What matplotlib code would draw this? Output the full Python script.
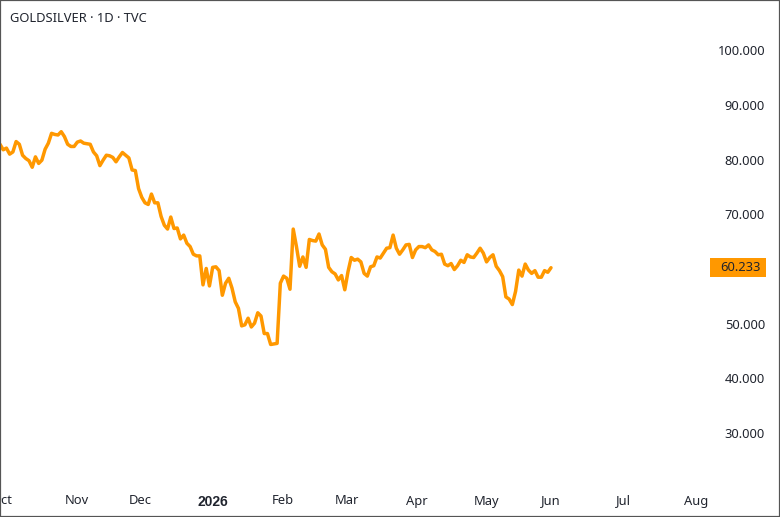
import matplotlib
matplotlib.use("Agg")
import matplotlib.pyplot as plt
from matplotlib.patches import Rectangle

plt.rcParams['font.family'] = ['Noto Sans', 'DejaVu Sans']

closes = [
    82.8,81.8,82.1,81.0,81.4,83.3,82.8,80.8,80.2,79.8,78.6,80.5,79.3,79.9,81.9,83.0,
    84.8,84.6,84.5,85.1,84.2,82.8,82.4,82.4,83.2,83.4,83.0,82.9,82.8,81.4,80.7,
    78.9,79.9,80.8,80.7,80.4,79.6,80.5,81.3,80.8,80.3,78.1,78.0,74.7,73.1,72.1,
    71.8,73.7,72.1,72.1,69.6,68.0,67.3,69.5,67.4,67.5,65.5,66.2,
    64.7,64.1,62.7,62.4,62.4,57.1,60.1,56.9,60.3,60.4,59.7,55.2,57.4,58.3,
    56.5,54.0,52.8,49.6,49.8,51.0,49.4,50.1,52.0,51.4,48.2,48.2,46.2,46.3,46.4,57.4,
    58.7,58.3,56.3,67.3,64.1,60.5,62.2,60.3,65.4,65.2,65.1,66.4,64.4,63.6,60.3,59.5,
    59.1,58.0,58.8,
    56.2,59.5,62.1,61.6,61.8,61.3,59.2,58.7,60.4,60.6,62.2,62.0,62.9,63.8,63.9,66.2,63.8,
    62.7,63.5,64.4,64.5,62.1,63.5,64.1,64.1,63.9,64.4,63.5,63.2,62.6,62.7,60.9,60.6,
    61.0,59.9,60.6,61.6,61.2,62.6,62.2,62.1,62.9,63.8,62.9,61.3,62.1,62.6,60.5,59.7,
    58.6,54.9,54.5,53.5,55.9,59.8,58.7,60.9,59.8,59.2,59.7,58.5,58.5,59.7,59.4,60.233,
]
month_labels = ['Oct','Nov','Dec','2026','Feb','Mar','Apr','May','Jun','Jul','Aug']
month_px = [2,77,140,213,283,347,417,487,551,623,696]
price_ticks = [30,40,50,70,80,90,100]
title = 'GOLDSILVER · 1D · TVC'
INK = '#20242e'
W, H = 780, 517

fig = plt.figure(figsize=(W/100, H/100), dpi=100, facecolor='white')
ax = fig.add_axes([0,0,1,1])
bar_px = 551/(len(closes)-1)
xs = list(range(len(closes)))
ax.plot(xs, closes, color='#FF9800', lw=2.5, solid_joinstyle='round', solid_capstyle='round')
ax.set_xlim(0, W/bar_px)
ax.set_ylim(60-(517-269)/5.47, 60+269/5.47)

ax.yaxis.tick_right()
ax.set_yticks(price_ticks)
ax.set_yticklabels([f'{v:.3f}' for v in price_ticks], ha='right', color=INK, fontsize=9.3)
ax.tick_params(axis='y', length=0, pad=-10.8)
ax.set_xticks([p/bar_px for p in month_px])
ax.set_xticklabels(month_labels, color=INK, fontsize=9.3)
ax.tick_params(axis='x', length=0, pad=-16.2)
for lab in ax.get_xticklabels():
    if lab.get_text() == '2026':
        lab.set_fontfamily('Liberation Sans')
        lab.set_fontweight('bold')
        lab.set_fontsize(10)
for s in ax.spines.values():
    s.set_color('#555555'); s.set_linewidth(1.6)

ax.add_patch(Rectangle((710/W, (H-277)/H), 55.5/W, 19/H, transform=ax.transAxes,
                       facecolor='#FF9800', edgecolor='none', zorder=3))
ax.text(760.5/W, (H-267.6)/H, f'{closes[-1]:.3f}', transform=ax.transAxes, ha='right', va='center',
        color=INK, fontsize=9.3, zorder=4)
ax.text(10/W, (H-18)/H, title, transform=ax.transAxes, ha='left', va='center', color=INK, fontsize=9.3)
fig.savefig('out.png', dpi=100)
